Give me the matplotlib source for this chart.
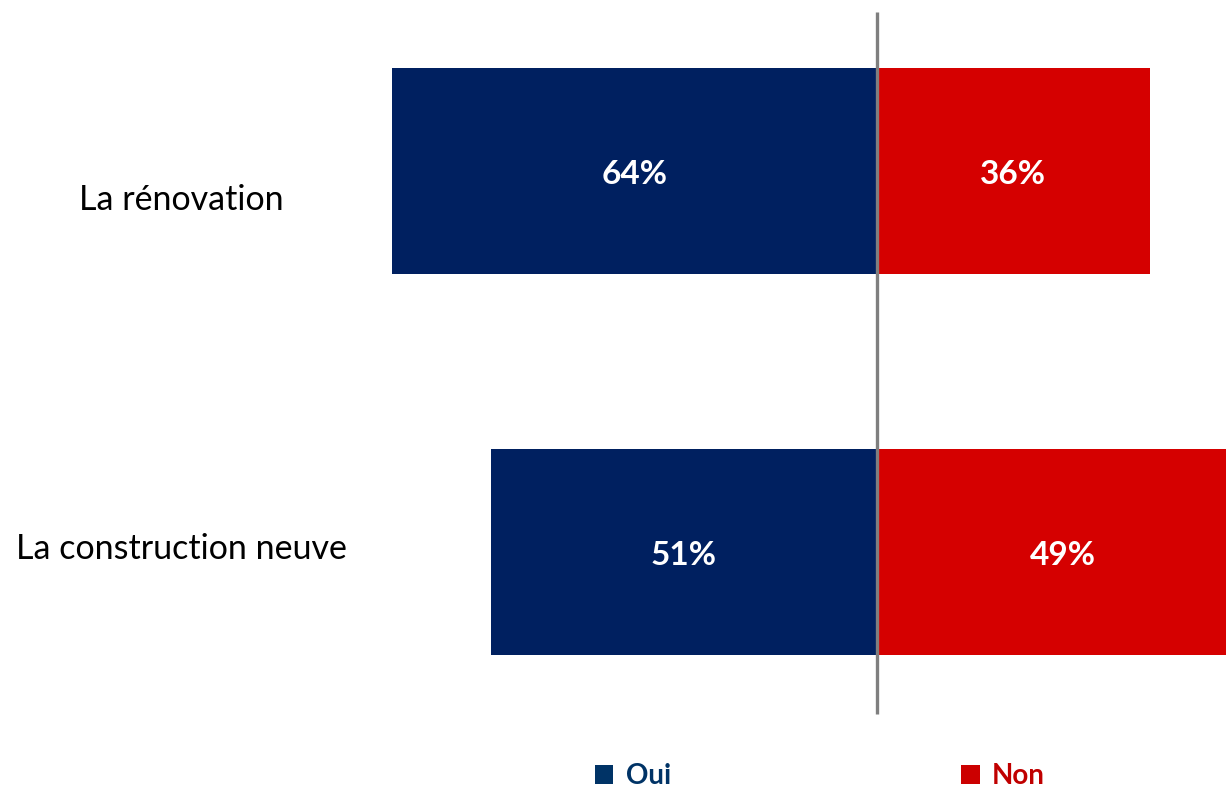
import matplotlib
matplotlib.use("Agg")
import matplotlib.pyplot as plt
from matplotlib.patches import Patch
import matplotlib.transforms as mtransforms

categories = ["La rénovation", "La construction neuve"]
oui = [64, 51]
non = [36, 49]
series_names = ["Oui", "Non"]

NAVY = "#002060"
RED = "#D50000"
OUI_TXT = "#003366"
NON_TXT = "#C00000"

plt.rcParams['font.family'] = ['Lato', 'DejaVu Sans']

W, H = 1226, 789
fig = plt.figure(figsize=(W / 100, H / 100), dpi=100)
ax = fig.add_axes([0, 0, 1, 1])
ax.set_axis_off()

# scale: 0 at pixel 877, 7.578 px per %
px_per = 485 / 64
ax.set_xlim(-877 / px_per, (W - 877) / px_per)
# y: category 0 at pixel 171, category 1 at pixel 552
py_per = 381
ax.set_ylim(1 + (H - 552) / py_per, -171 / py_per)

ypos = list(range(len(categories)))
bh = 206 / py_per
ax.barh(ypos, [-v for v in oui], height=bh, color=NAVY, left=0, zorder=2)
ax.barh(ypos, non, height=bh, color=RED, left=0, zorder=2)

# centre line
ax.plot([0, 0], [-171 / py_per + 12 / py_per, -171 / py_per + 714 / py_per],
        color="#7F7F7F", lw=2.4, zorder=3, solid_capstyle='butt')

down = mtransforms.offset_copy(ax.transData, fig=fig, x=0, y=-13, units='dots')
for i, (o, n) in enumerate(zip(oui, non)):
    ax.text(-o / 2, i, f"{o}%", color="white", fontsize=24, fontweight='bold',
            ha='center', va='baseline', transform=down, zorder=4)
    ax.text(n / 2, i, f"{n}%", color="white", fontsize=24, fontweight='bold',
            ha='center', va='baseline', transform=down, zorder=4)

label_x = (181 - 877) / px_per
label_dy = [-39, -7]
for i, (cat, dy) in enumerate(zip(categories, label_dy)):
    tr = mtransforms.offset_copy(ax.transData, fig=fig, x=0, y=dy, units='dots')
    ax.text(label_x, i, cat, fontsize=24.5, ha='center', va='baseline',
            color="black", transform=tr)

handles = [Patch(facecolor=c, edgecolor='none') for c in ["#003366", "#CC0000"]]
leg = fig.legend(handles, series_names, loc='center left',
                 bbox_to_anchor=(595 / W, 1 - 776 / H), ncol=2, frameon=False,
                 prop={'weight': 'bold', 'size': 20},
                 handlelength=0.66, handleheight=0.66, handletextpad=0.45,
                 columnspacing=10.45, borderpad=0, borderaxespad=0)
for t, c in zip(leg.get_texts(), [OUI_TXT, NON_TXT]):
    t.set_color(c)

fig.savefig("out.png", dpi=100)
